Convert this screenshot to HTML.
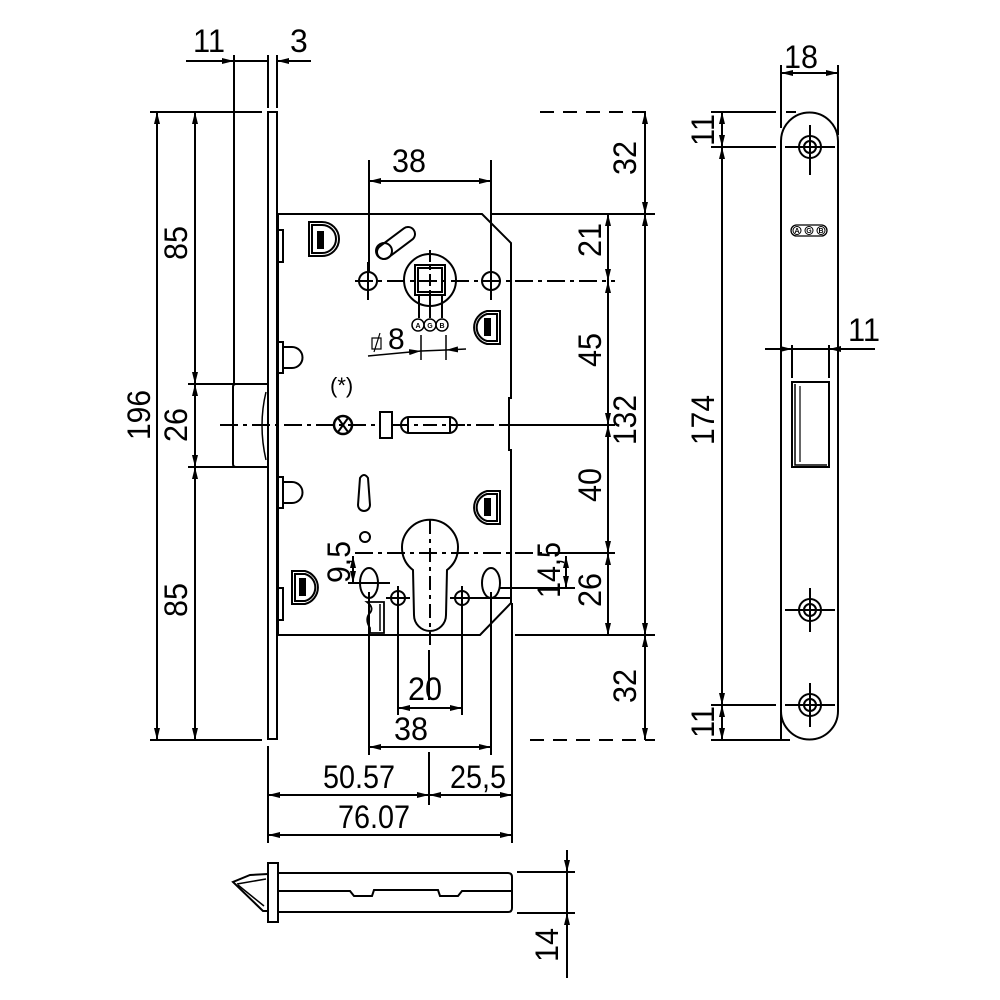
<!DOCTYPE html>
<html><head><meta charset="utf-8"><style>
html,body{margin:0;padding:0;background:#fff}
svg{display:block}
text{font-family:"Liberation Sans",sans-serif;fill:#000}
</style></head><body>
<svg width="1000" height="1000" viewBox="0 0 1000 1000" xmlns="http://www.w3.org/2000/svg">
<defs>
<marker id="a" viewBox="0 0 12 6" refX="12" refY="3" markerWidth="12" markerHeight="6" markerUnits="userSpaceOnUse" orient="auto-start-reverse">
<path d="M0,0 L12,3 L0,6 Z" fill="#000"/>
</marker>
</defs>
<g stroke="#000" stroke-width="2" fill="none">
<!-- faceplate -->
<rect x="268" y="112" width="9" height="627" fill="#fff"/>
<!-- latch -->
<path d="M268,384 H236 Q233,384 233,387 V464 Q233,467 236,467 H268"/>
<path d="M266,392 Q258,425 266,460" stroke-width="1.5"/>
<!-- body -->
<path d="M278,214 H482 L511,243 V398 H509 V450 H511 V603 L480,635 H278 Z"/>
<!-- tabs -->
<rect x="278" y="230" width="5" height="32"/>
<rect x="278" y="342" width="5" height="31"/>
<rect x="278" y="477" width="5" height="31"/>
<rect x="278" y="588" width="5" height="32"/>
<path d="M283,347 H292 A10,10 0 0 1 292,368 H283"/>
<path d="M283,482 H292 A10,10 0 0 1 292,503 H283"/>
<!-- D shapes -->
<g>
<path d="M309,222 H322 A17,17 0 0 1 322,256 H309 Z"/>
<path d="M312,225 H322 A14,14 0 0 1 322,253 H312 Z"/>
<rect x="318" y="232" width="5" height="16" fill="#000"/>
<path d="M500,311 H487 A17,17 0 0 0 487,344 H500 Z"/>
<path d="M497,314 H487 A14,14 0 0 0 487,341 H497 Z"/>
<rect x="485" y="319" width="5" height="16" fill="#000"/>
<path d="M500,491 H487 A17,17 0 0 0 487,524 H500 Z"/>
<path d="M497,494 H487 A14,14 0 0 0 487,521 H497 Z"/>
<rect x="485" y="499" width="5" height="16" fill="#000"/>
<path d="M292,571 H305 A17,17 0 0 1 305,604 H292 Z"/>
<path d="M295,574 H305 A14,14 0 0 1 305,601 H295 Z"/>
<rect x="300" y="579" width="5" height="16" fill="#000"/>
</g>
<!-- angled slot -->
<line x1="384" y1="252" x2="408" y2="234" stroke-width="16" stroke-linecap="round"/>
<line x1="384" y1="252" x2="408" y2="234" stroke="#fff" stroke-width="12" stroke-linecap="round"/>
<circle cx="384" cy="251" r="8"/>
<!-- spindle -->
<circle cx="430" cy="280" r="26"/>
<rect x="415" y="265" width="30" height="30"/>
<rect x="418" y="268" width="24" height="24"/>
<line x1="419" y1="296" x2="419" y2="318"/><line x1="430" y1="296" x2="430" y2="318"/><line x1="442" y1="296" x2="442" y2="318"/>
<circle cx="368" cy="281" r="9"/>
<circle cx="491" cy="281" r="9"/>
<line x1="368" y1="262" x2="368" y2="300"/><line x1="491" y1="262" x2="491" y2="300"/>
<line x1="355" y1="281" x2="615" y2="281" stroke-dasharray="18,5,4,5"/>
<line x1="430" y1="250" x2="430" y2="312" stroke-dasharray="12,4,4,4"/>
<!-- AGB -->
<circle cx="418" cy="325" r="6" stroke-width="1.5"/><circle cx="430" cy="325" r="6" stroke-width="1.5"/><circle cx="442" cy="325" r="6" stroke-width="1.5"/>
<!-- ø8 dims -->
<line x1="421" y1="335" x2="421" y2="360" stroke-width="1.5"/>
<line x1="446" y1="335" x2="446" y2="360" stroke-width="1.5"/>
<line x1="368" y1="356" x2="421" y2="351" stroke-width="1.5" marker-end="url(#a)"/>
<line x1="421" y1="351" x2="446" y2="350" stroke-width="1.5"/>
<line x1="466" y1="349" x2="446" y2="350" stroke-width="1.5" marker-end="url(#a)"/>
<rect x="372" y="338" width="9" height="11" stroke-width="1.2"/>
<line x1="374" y1="352" x2="380" y2="333" stroke-width="1.2"/>
<!-- center line -->
<line x1="220" y1="425" x2="615" y2="425" stroke-dasharray="18,5,4,5"/>
<circle cx="343" cy="425" r="9" stroke-width="2.5"/>
<line x1="338" y1="418" x2="348" y2="432"/><line x1="348" y1="418" x2="338" y2="432"/>
<rect x="380" y="412" width="12" height="26" fill="#fff"/>
<rect x="401" y="417" width="56" height="16" rx="8" fill="#fff"/>
<line x1="408" y1="417" x2="408" y2="433"/><line x1="450" y1="417" x2="450" y2="433"/>
<line x1="395" y1="425" x2="465" y2="425" stroke-dasharray="14,5,4,5"/>
<!-- lower small slot -->
<path d="M360,478 Q364,472 368,478 L370,505 A6,6 0 0 1 358,505 Z"/>
<circle cx="365" cy="537" r="5"/>
<!-- cylinder -->
<path d="M413,570 A28,28 0 1 1 447,570 L446,615 A16,16 0 0 1 414,615 Z"/>
<line x1="355" y1="553" x2="560" y2="553" stroke-dasharray="18,5,4,5"/>
<line x1="430" y1="520" x2="430" y2="645" stroke-dasharray="14,5,4,5"/>
<ellipse cx="369" cy="583" rx="9" ry="15"/>
<ellipse cx="491" cy="583" rx="9" ry="15"/>
<circle cx="398" cy="598" r="7"/><circle cx="462" cy="598" r="7"/>
<line x1="386" y1="598" x2="410" y2="598"/><line x1="398" y1="586" x2="398" y2="610"/>
<line x1="450" y1="598" x2="512" y2="598"/><line x1="462" y1="586" x2="462" y2="610"/>
<line x1="348" y1="583" x2="390" y2="583"/>
<path d="M367,602 Q375,608 369,614 Q365,620 370,628 V633 H384 V602 H378 Z" stroke-width="1.8"/>
<line x1="380" y1="604" x2="380" y2="631" stroke-width="1.5"/>
<line x1="353" y1="556" x2="353" y2="583" marker-start="url(#a)" marker-end="url(#a)"/>
<line x1="566" y1="556" x2="566" y2="588" marker-start="url(#a)" marker-end="url(#a)"/>
<line x1="500" y1="588" x2="575" y2="588"/>
<line x1="560" y1="553" x2="615" y2="553"/>
<!-- extension lines below body -->
<line x1="369" y1="592" x2="369" y2="755"/>
<line x1="491" y1="592" x2="491" y2="755"/>
<line x1="398" y1="606" x2="398" y2="715"/>
<line x1="462" y1="606" x2="462" y2="715"/>
<line x1="512" y1="603" x2="512" y2="843"/>
<line x1="268" y1="746" x2="268" y2="843"/>
<line x1="429" y1="650" x2="429" y2="700"/>
<line x1="429" y1="752" x2="429" y2="805"/>
<line x1="369" y1="160" x2="369" y2="272"/>
<line x1="491" y1="160" x2="491" y2="272"/>
<!-- bottom dims -->
<line x1="398" y1="708" x2="462" y2="708" marker-start="url(#a)" marker-end="url(#a)"/>
<line x1="369" y1="747" x2="491" y2="747" marker-start="url(#a)" marker-end="url(#a)"/>
<line x1="268" y1="795" x2="429" y2="795" marker-start="url(#a)" marker-end="url(#a)"/>
<line x1="429" y1="795" x2="512" y2="795" marker-start="url(#a)" marker-end="url(#a)"/>
<line x1="268" y1="835" x2="512" y2="835" marker-start="url(#a)" marker-end="url(#a)"/>
<line x1="369" y1="181" x2="491" y2="181" marker-start="url(#a)" marker-end="url(#a)"/>
<!-- top dims 11 3 -->
<line x1="234" y1="55" x2="234" y2="384"/>
<line x1="268" y1="55" x2="268" y2="108"/>
<line x1="277" y1="55" x2="277" y2="108"/>
<line x1="186" y1="61" x2="234" y2="61" marker-end="url(#a)"/>
<line x1="234" y1="61" x2="268" y2="61"/>
<line x1="311" y1="61" x2="277" y2="61" marker-end="url(#a)"/>
<!-- left dims -->
<line x1="150" y1="112" x2="262" y2="112"/>
<line x1="150" y1="740" x2="262" y2="740"/>
<line x1="188" y1="384" x2="268" y2="384"/>
<line x1="188" y1="467" x2="268" y2="467"/>
<line x1="157" y1="112" x2="157" y2="740" marker-start="url(#a)" marker-end="url(#a)"/>
<line x1="195" y1="112" x2="195" y2="384" marker-start="url(#a)" marker-end="url(#a)"/>
<line x1="195" y1="384" x2="195" y2="467" marker-start="url(#a)" marker-end="url(#a)"/>
<line x1="195" y1="467" x2="195" y2="740" marker-start="url(#a)" marker-end="url(#a)"/>
<!-- right dims -->
<line x1="540" y1="112" x2="655" y2="112" stroke-dasharray="14,9"/>
<line x1="530" y1="740" x2="655" y2="740" stroke-dasharray="14,9"/>
<line x1="490" y1="214" x2="655" y2="214"/>
<line x1="515" y1="635" x2="655" y2="635"/>
<line x1="500" y1="425" x2="615" y2="425"/>
<line x1="645" y1="112" x2="645" y2="214" marker-start="url(#a)" marker-end="url(#a)"/>
<line x1="645" y1="214" x2="645" y2="635" marker-start="url(#a)" marker-end="url(#a)"/>
<line x1="645" y1="635" x2="645" y2="740" marker-start="url(#a)" marker-end="url(#a)"/>
<line x1="608" y1="214" x2="608" y2="281" marker-start="url(#a)" marker-end="url(#a)"/>
<line x1="608" y1="281" x2="608" y2="425" marker-start="url(#a)" marker-end="url(#a)"/>
<line x1="608" y1="425" x2="608" y2="553" marker-start="url(#a)" marker-end="url(#a)"/>
<line x1="608" y1="553" x2="608" y2="635" marker-start="url(#a)" marker-end="url(#a)"/>
<!-- strike plate -->
<path d="M781,740 V141 A28.5,28.5 0 0 1 838,141 V711 A28.5,28.5 0 0 1 781,711 Z" fill="#fff"/>
<g>
<circle cx="810" cy="147" r="11"/><circle cx="810" cy="147" r="6"/>
<line x1="785" y1="147" x2="835" y2="147"/><line x1="810" y1="125" x2="810" y2="175"/>
<circle cx="810" cy="610" r="11"/><circle cx="810" cy="610" r="6"/>
<line x1="785" y1="610" x2="835" y2="610"/><line x1="810" y1="588" x2="810" y2="632"/>
<circle cx="810" cy="705" r="11"/><circle cx="810" cy="705" r="6"/>
<line x1="785" y1="705" x2="835" y2="705"/><line x1="810" y1="683" x2="810" y2="727"/>
</g>
<rect x="792" y="382" width="37" height="85"/>
<path d="M795,384 V465 H827" stroke-width="1.5"/>
<line x1="800" y1="386" x2="800" y2="462" stroke-width="1.2"/>
<rect x="791" y="225" width="36" height="11" rx="5.5" stroke-width="1.3"/>
<circle cx="797" cy="230.5" r="4" stroke-width="1"/><circle cx="809" cy="230.5" r="4" stroke-width="1"/><circle cx="821" cy="230.5" r="4" stroke-width="1"/>
<!-- strike dims -->
<line x1="781" y1="65" x2="781" y2="128"/>
<line x1="838" y1="65" x2="838" y2="135"/>
<line x1="781" y1="73" x2="838" y2="73" marker-start="url(#a)" marker-end="url(#a)"/>
<line x1="711" y1="112" x2="776" y2="112"/>
<line x1="786" y1="112" x2="796" y2="112"/>
<line x1="711" y1="147" x2="776" y2="147"/>
<line x1="711" y1="705" x2="776" y2="705"/>
<line x1="711" y1="740" x2="790" y2="740"/>
<line x1="722" y1="112" x2="722" y2="147" marker-start="url(#a)" marker-end="url(#a)"/>
<line x1="722" y1="147" x2="722" y2="705" marker-start="url(#a)" marker-end="url(#a)"/>
<line x1="722" y1="705" x2="722" y2="740" marker-start="url(#a)" marker-end="url(#a)"/>
<line x1="792" y1="345" x2="792" y2="378"/>
<line x1="829" y1="345" x2="829" y2="378"/>
<line x1="765" y1="349" x2="792" y2="349" marker-end="url(#a)"/>
<line x1="792" y1="349" x2="829" y2="349"/>
<line x1="875" y1="349" x2="829" y2="349" marker-end="url(#a)"/>
<!-- bottom view -->
<rect x="268" y="863" width="10" height="59" fill="#fff"/>
<path d="M278,873 H508 Q512,873 512,877 V908 Q512,912 508,912 H278"/>
<path d="M278,891 H350 L354,896 H372 L374,890 H438 L440,896 H458 L462,891 H512"/>
<path d="M268,874 L250,875 L233,882 L263,911 L268,911"/>
<line x1="237" y1="884" x2="266" y2="879" stroke-width="1.5"/>
<line x1="238" y1="885" x2="264" y2="906" stroke-width="1.5"/>
<line x1="517" y1="872" x2="575" y2="872"/>
<line x1="517" y1="913" x2="575" y2="913"/>
<line x1="567" y1="850" x2="567" y2="872" marker-end="url(#a)"/>
<line x1="567" y1="872" x2="567" y2="913"/>
<line x1="567" y1="978" x2="567" y2="913" marker-end="url(#a)"/>
</g>
<g font-size="32">
<text x="193" y="52" textLength="32" lengthAdjust="spacingAndGlyphs">11</text>
<text x="290" y="52">3</text>
<text x="392" y="172" textLength="34" lengthAdjust="spacingAndGlyphs">38</text>
<text x="408" y="700" textLength="34" lengthAdjust="spacingAndGlyphs">20</text>
<text x="394" y="740" textLength="34" lengthAdjust="spacingAndGlyphs">38</text>
<text x="323" y="788" textLength="72" lengthAdjust="spacingAndGlyphs">50.57</text>
<text x="450" y="788" textLength="56" lengthAdjust="spacingAndGlyphs">25,5</text>
<text x="338" y="828" textLength="72" lengthAdjust="spacingAndGlyphs">76.07</text>
<text x="784" y="68" textLength="34" lengthAdjust="spacingAndGlyphs">18</text>
<text x="848" y="341" textLength="32" lengthAdjust="spacingAndGlyphs">11</text>
<text x="388" y="349" font-size="30">8</text>
<text x="330" y="393" font-size="22">(*)</text>
<text transform="translate(150,415) rotate(-90)" text-anchor="middle" textLength="50" lengthAdjust="spacingAndGlyphs">196</text>
<text transform="translate(187,243) rotate(-90)" text-anchor="middle" textLength="34" lengthAdjust="spacingAndGlyphs">85</text>
<text transform="translate(187,425) rotate(-90)" text-anchor="middle" textLength="34" lengthAdjust="spacingAndGlyphs">26</text>
<text transform="translate(187,600) rotate(-90)" text-anchor="middle" textLength="34" lengthAdjust="spacingAndGlyphs">85</text>
<text transform="translate(636,158) rotate(-90)" text-anchor="middle" textLength="34" lengthAdjust="spacingAndGlyphs">32</text>
<text transform="translate(636,686) rotate(-90)" text-anchor="middle" textLength="34" lengthAdjust="spacingAndGlyphs">32</text>
<text transform="translate(636,420) rotate(-90)" text-anchor="middle" textLength="50" lengthAdjust="spacingAndGlyphs">132</text>
<text transform="translate(601,240) rotate(-90)" text-anchor="middle" textLength="34" lengthAdjust="spacingAndGlyphs">21</text>
<text transform="translate(601,350) rotate(-90)" text-anchor="middle" textLength="34" lengthAdjust="spacingAndGlyphs">45</text>
<text transform="translate(601,485) rotate(-90)" text-anchor="middle" textLength="34" lengthAdjust="spacingAndGlyphs">40</text>
<text transform="translate(601,590) rotate(-90)" text-anchor="middle" textLength="34" lengthAdjust="spacingAndGlyphs">26</text>
<text transform="translate(560,570) rotate(-90)" text-anchor="middle" textLength="56" lengthAdjust="spacingAndGlyphs">14,5</text>
<text transform="translate(350,562) rotate(-90)" text-anchor="middle" textLength="42" lengthAdjust="spacingAndGlyphs">9,5</text>
<text transform="translate(714,130) rotate(-90)" text-anchor="middle" textLength="32" lengthAdjust="spacingAndGlyphs">11</text>
<text transform="translate(714,420) rotate(-90)" text-anchor="middle" textLength="50" lengthAdjust="spacingAndGlyphs">174</text>
<text transform="translate(714,722) rotate(-90)" text-anchor="middle" textLength="32" lengthAdjust="spacingAndGlyphs">11</text>
<text transform="translate(558,945) rotate(-90)" text-anchor="middle" textLength="34" lengthAdjust="spacingAndGlyphs">14</text>
</g>
<g font-size="7" font-weight="bold" text-anchor="middle">
<text x="418" y="328">A</text><text x="430" y="328">G</text><text x="442" y="328">B</text>
<text x="797" y="233">A</text><text x="809" y="233">G</text><text x="821" y="233">B</text>
</g>
</svg>
</body></html>
